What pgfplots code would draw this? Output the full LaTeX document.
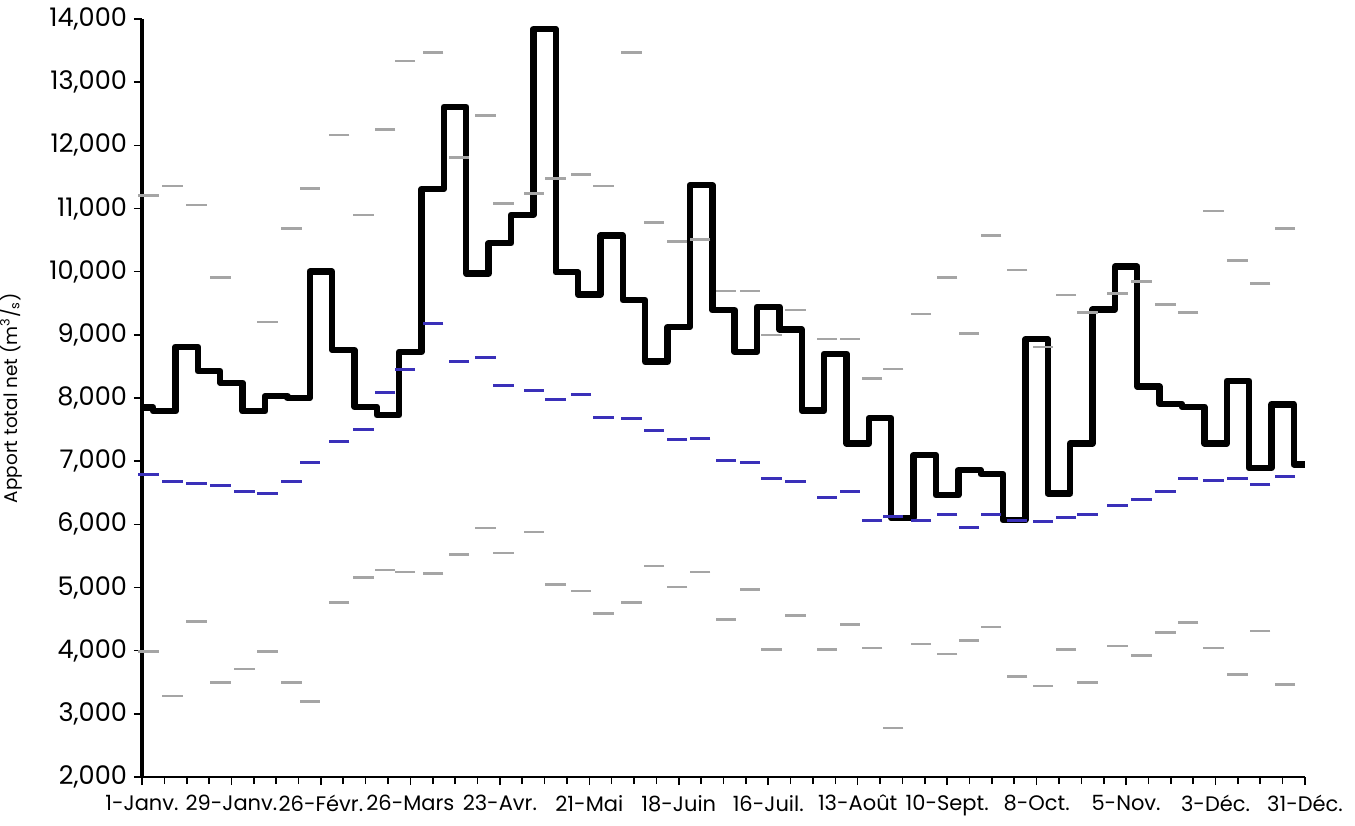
\documentclass[border=0pt]{standalone}
\usepackage{pgfplots}
\pgfplotsset{compat=1.18}
\usepackage{fontspec}
\setmainfont{Poppins}
\definecolor{meanblue}{RGB}{58,48,185}
\definecolor{dashgray}{RGB}{165,165,165}

\pgfplotstableread{
x y
0 7850
7 7790
14 8810
21 8425
28 8240
35 7790
42 8030
49 8000
56 10000
63 8760
70 7860
77 7730
84 8730
91 11310
98 12610
105 9970
112 10450
119 10900
126 13840
133 9990
140 9640
147 10570
154 9550
161 8575
168 9125
175 11370
182 9390
189 8730
196 9445
203 9085
210 7800
217 8700
224 7280
231 7680
238 6100
245 7095
252 6460
259 6860
266 6795
273 6065
280 8930
287 6490
294 7280
301 9400
308 10080
315 8180
322 7905
329 7860
336 7280
343 8270
350 6890
357 7900
364 6950
}\netdata

\pgfplotstableread{
x mean max min
2.0 6794 11202 3985
9.6 6673 11355 3283
17.1 6641 11054 4466
24.6 6609 9903 3495
32.1 6525 nan 3711
39.3 6493 9206 3985
46.8 6673 10685 3495
52.5 6973 11318 3194
61.7 7306 12163 4762
69.3 7507 10896 5163
76.1 8088 12253 5274
82.3 8452 13335 5248
91.1 9175 13467 5221
99.2 8573 11804 5522
107.5 8636 12469 5944
113.2 8204 11075 5548
122.6 8125 11233 5881
129.4 7977 11471 5047
137.4 8056 11540 4946
144.5 7697 11355 4588
153.2 7670 13467 4762
160.2 7486 10774 5342
167.5 7338 10473 5010
174.7 7359 10511 5248
182.7 7005 9692 4498
190.2 6973 9692 4973
197.0 6726 8996 4018
204.5 6673 9391 4561
214.4 6425 8932 4018
221.5 6525 8932 4414
228.5 6066 8310 4043
235.1 6118 8457 2776
243.8 6066 9328 4107
252.0 6156 9903 3948
258.8 5944 9022 4165
265.8 6156 10568 4376
273.9 6066 10025 3595
282.0 6039 8810 3442
289.2 6102 9629 4018
295.9 6156 9355 3495
305.3 6303 9656 4075
312.8 6398 9840 3928
320.3 6525 9482 4287
327.4 6726 9355 4446
335.4 6700 10959 4043
342.9 6726 10172 3622
350.0 6636 9808 4313
357.7 6752 10685 3468
}\dashdata

\begin{document}
\begin{tikzpicture}
\useasboundingbox (-71pt,-24pt) rectangle (606.5pt,388.5pt);
\begin{axis}[
  at={(0,0)}, anchor=south west,
  scale only axis, width=581.5pt, height=379pt,
  xmin=0, xmax=364, ymin=2000, ymax=14000,
  axis lines*=left,
  x axis line style={line width=0.8pt, -},
  y axis line style={line width=1.6pt, -},
  tick align=outside,
  major tick length=4pt, minor tick length=3.5pt,
  tick style={black, line width=0.8pt},
  xtick={0,28,...,364},
  minor x tick num=3,
  xticklabels={1-Janv., 29-Janv., 26-Févr., 26-Mars, 23-Avr., 21-Mai, 18-Juin, 16-Juil., 13-Août, 10-Sept., 8-Oct., 5-Nov., 3-Déc., 31-Déc.},
  ytick={2000,3000,...,14000},
  scaled y ticks=false,
  yticklabel={\pgfmathprintnumber[assume math mode=true,fixed,precision=0,1000 sep={,}]{\tick}},
  yticklabel style={font=\fontsize{12.8}{14}\selectfont, text=black},
  xticklabel style={font=\fontsize{10.5}{12}\selectfont, text=black, yshift=-1.5pt},
  ylabel={Apport total net (m\textsuperscript{3}/\textsubscript{s})},
  ylabel style={font=\fontsize{9.2}{11}\selectfont, at={(axis description cs:-0.097,0.5)}, anchor=south},
  clip=false,
]
\addplot[black, line width=3.2pt, const plot mark mid, line join=round] table[x=x,y=y] {\netdata};
\addplot[only marks, mark=-, mark size=5.1pt, mark options={line width=1.3pt, draw=dashgray}] table[x=x,y=max] {\dashdata};
\addplot[only marks, mark=-, mark size=5.1pt, mark options={line width=1.3pt, draw=dashgray}] table[x=x,y=min] {\dashdata};
\addplot[only marks, mark=-, mark size=5.1pt, mark options={line width=1.6pt, draw=meanblue}] table[x=x,y=mean] {\dashdata};
\end{axis}
\end{tikzpicture}
\end{document}
